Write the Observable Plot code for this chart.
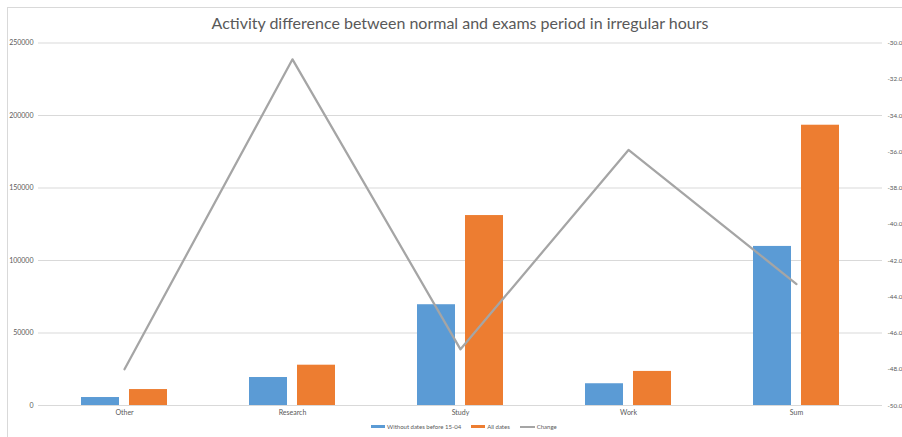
<!DOCTYPE html>
<html>
<head>
<meta charset="utf-8">
<script src="https://cdn.jsdelivr.net/npm/d3@7"></script>
<script src="https://cdn.jsdelivr.net/npm/@observablehq/plot@0.6"></script>
<style>
  body { margin: 0; background: #fff; font-family: Lato, "Open Sans", sans-serif; }
  #chart { position: relative; width: 902px; height: 437px; overflow: hidden; }
  #frame { position: absolute; left: 7px; top: 7px; width: 1000px; height: 1000px;
           border-left: 1px solid #d9d9d9; border-top: 1px solid #d9d9d9; }
  #title { position: absolute; left: 0; top: 13px; width: 920px; text-align: center;
           font-size: 16px; color: #595959; }
  #plot { position: absolute; left: 0; top: 40px; }
  #legend { position: absolute; left: 371px; top: 423px; display: flex; align-items: center;
            font-size: 6px; color: #595959; white-space: nowrap; }
  #legend .item { display: flex; align-items: center; margin-right: 10px; }
  #legend .sw { width: 14px; height: 3px; margin-right: 2px; }
  #legend .ln { width: 15px; height: 2px; margin-right: 2px; }
</style>
</head>
<body>
<div id="chart">
  <div id="frame"></div>
  <div id="title">Activity difference between normal and exams period in irregular hours</div>
  <div id="plot"></div>
  <div id="legend"></div>
</div>
<script>
// Activity counts per category (left axis) and percentage change (right axis)
const categories = ["Other", "Research", "Study", "Work", "Sum"];
const withoutEarlyDates = [5500, 19300, 69500, 15000, 109700];
const allDates = [11000, 27800, 131000, 23500, 193300];
const change = [-48.0, -30.9, -46.9, -35.9, -43.3];

const leftTicks = [0, 50000, 100000, 150000, 200000, 250000];
const rightTicks = [-50, -48, -46, -44, -42, -40, -38, -36, -34, -32, -30];

const seriesNames = ["Without dates before 15-04", "All dates", "Change"];
const colors = ["#5B9BD5", "#ED7D31", "#A5A5A5"];

const rows = categories.map((c, i) => ({
  category: c,
  without: withoutEarlyDates[i],
  all: allDates[i],
  change: change[i]
}));

// The change series shares the count scale through a linear map onto the secondary range
const yMax = 250000, cMin = -50, cMax = -30;
const toY = c => (c - cMin) / (cMax - cMin) * yMax;
const fromY = v => v / yMax * (cMax - cMin) + cMin;

const textColor = "#595959";
const gridColor = "#d9d9d9";

const chart = Plot.plot({
  width: 902,
  height: 380,
  marginLeft: 38,
  marginRight: 20,
  marginTop: 2.5,
  marginBottom: 15,
  style: { fontFamily: "Lato, 'Open Sans', sans-serif", background: "transparent", overflow: "visible" },
  x: { type: "band", domain: categories, paddingInner: 0.4905, paddingOuter: 0.245, axis: null },
  y: { domain: [0, yMax], axis: null },
  marks: [
    Plot.gridY(leftTicks, { stroke: gridColor, strokeOpacity: 1 }),
    Plot.barY(rows, { x: "category", y: "without", fill: colors[0], insetRight: 48 }),
    Plot.barY(rows, { x: "category", y: "all", fill: colors[1], insetLeft: 48 }),
    Plot.ruleY([0], { stroke: gridColor }),
    Plot.lineY(rows, { x: "category", y: d => toY(d.change), stroke: colors[2], strokeWidth: 2.25 }),
    Plot.axisY(leftTicks, {
      anchor: "left", tickSize: 0, tickPadding: 5, label: null,
      tickFormat: d => String(d), fontSize: 7, fill: textColor
    }),
    Plot.axisY(rightTicks.map(toY), {
      anchor: "right", tickSize: 0, tickPadding: 5, label: null,
      tickFormat: v => fromY(v).toFixed(1), fontSize: 6.3, fill: textColor
    }),
    Plot.axisX({ tickSize: 0, tickPadding: 5, label: null, fontSize: 7, fill: textColor })
  ]
});
document.getElementById("plot").appendChild(chart);

// Legend
const legend = document.getElementById("legend");
seriesNames.forEach((name, i) => {
  const item = document.createElement("div");
  item.className = "item";
  const sw = document.createElement("div");
  sw.className = i === 2 ? "ln" : "sw";
  sw.style.background = colors[i];
  const label = document.createElement("span");
  label.textContent = name;
  item.appendChild(sw);
  item.appendChild(label);
  legend.appendChild(item);
});
</script>
</body>
</html>
